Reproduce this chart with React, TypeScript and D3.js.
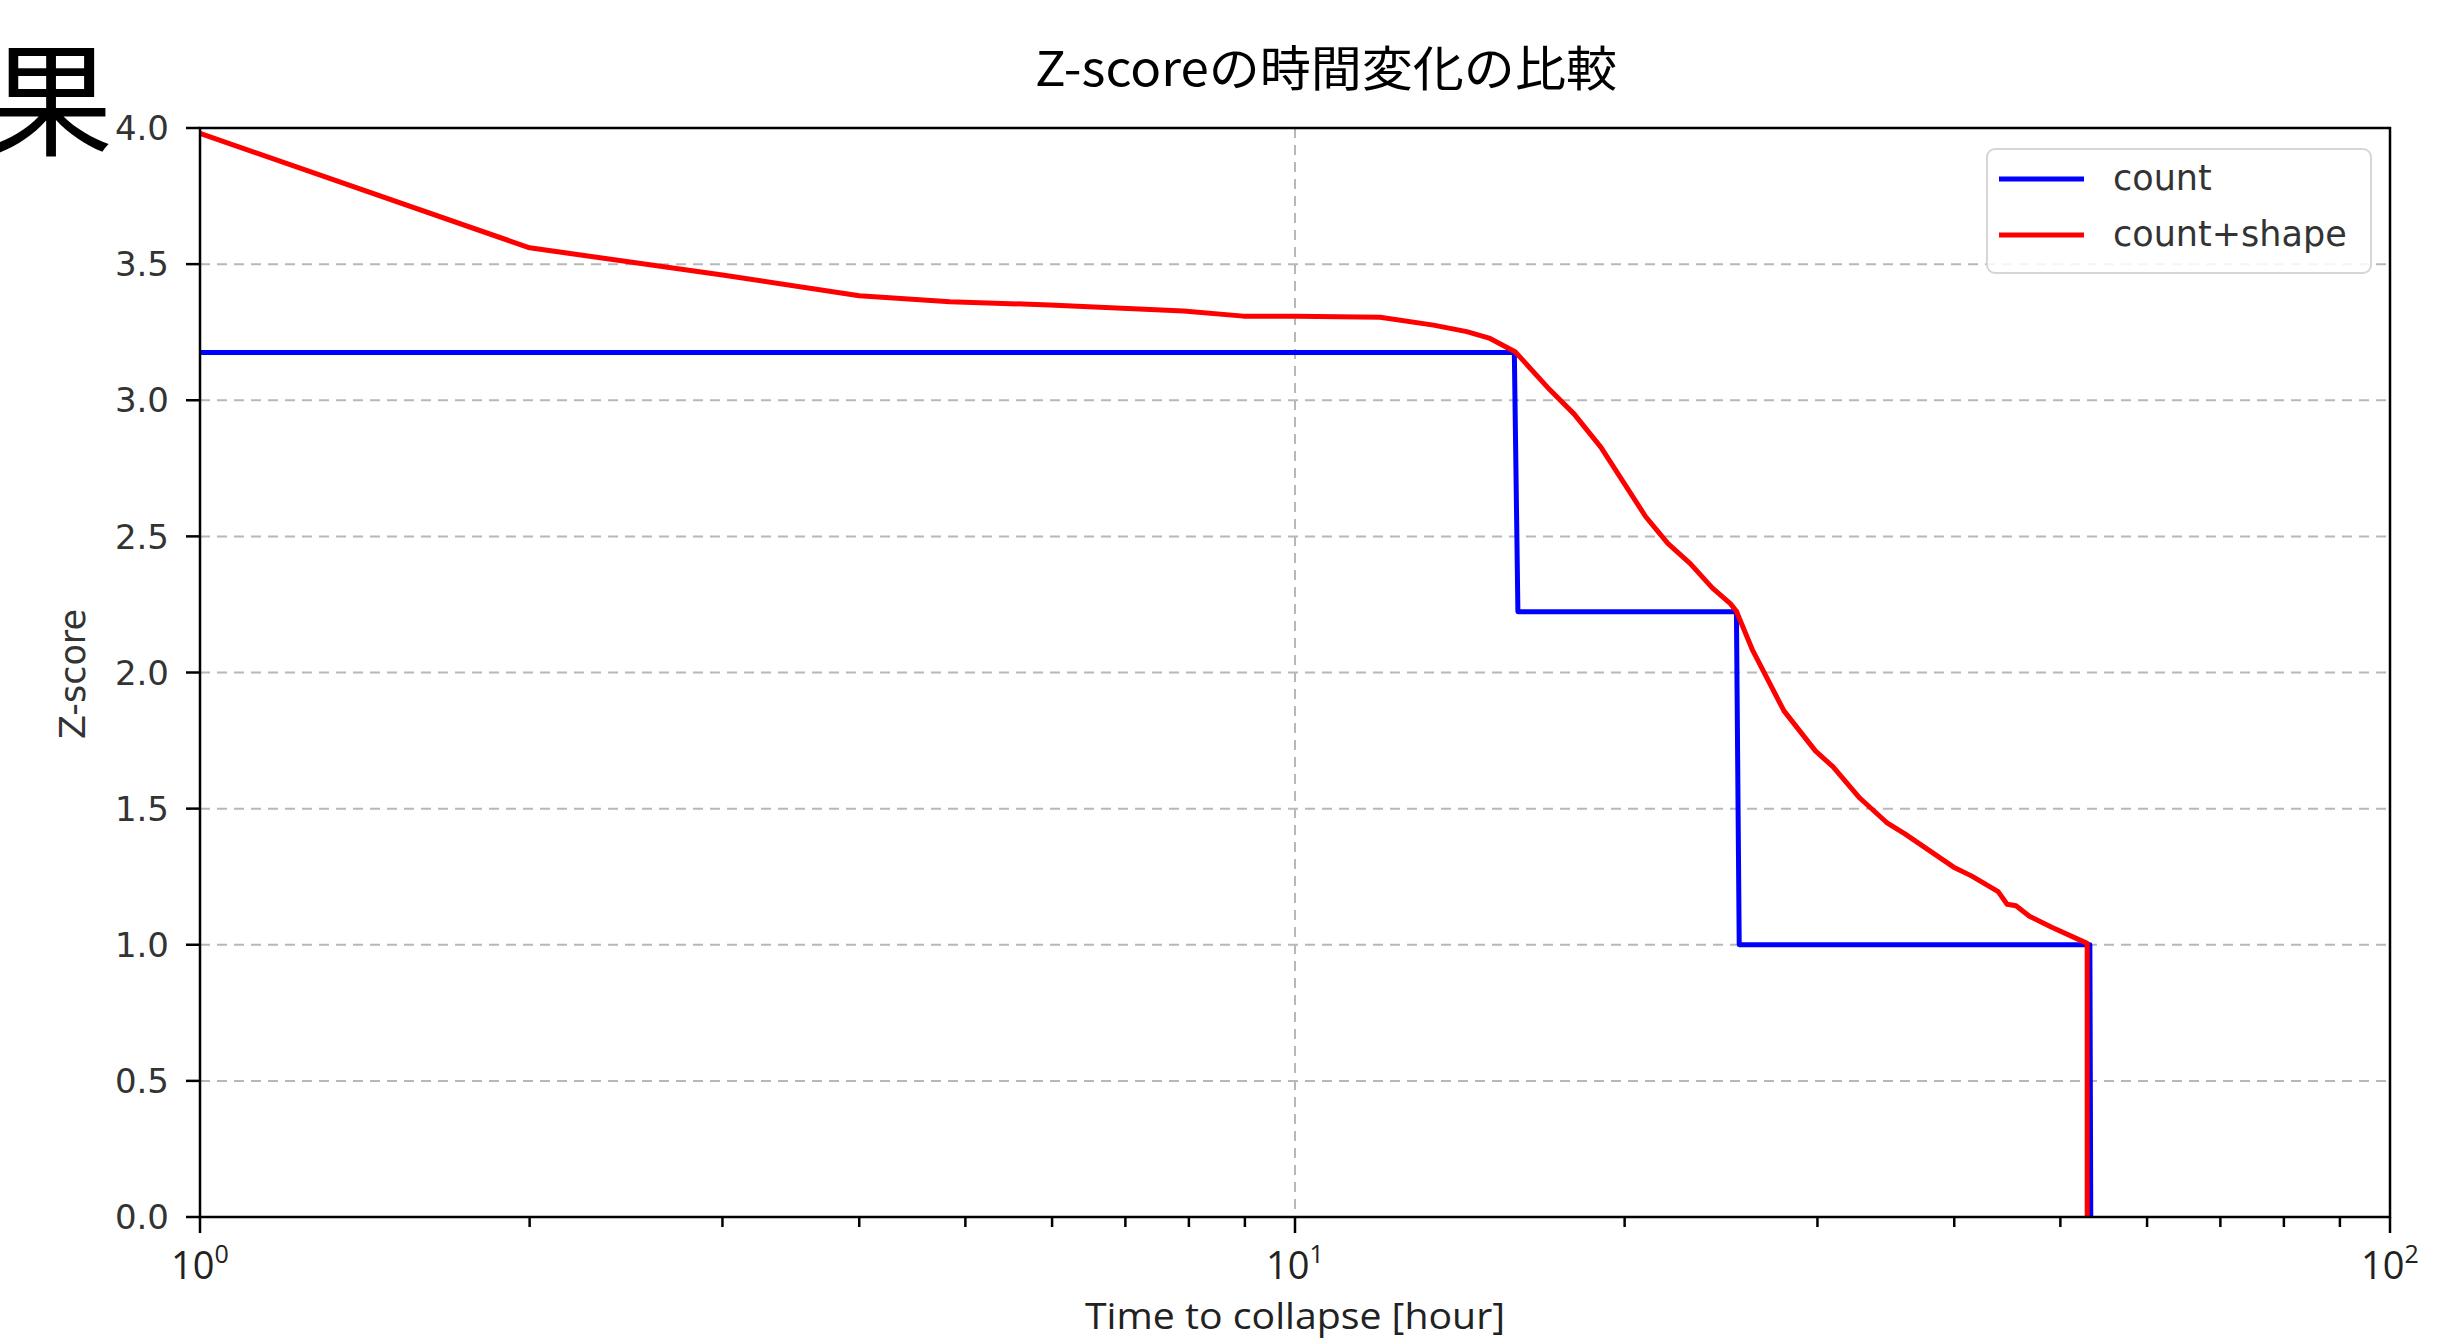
import React from 'react';
import * as d3 from 'd3';

const width = 2456;
const height = 1343;
const margin = { top: 128, right: 66, bottom: 126, left: 200 };

// hours to collapse vs Z-score
const countX = [1, 15.86, 15.98, 25.3, 25.45, 53.2, 53.3];
const countY = [3.175, 3.175, 2.223, 2.223, 1.0, 1.0, 0];

const shapeX = [1, 2, 3, 4, 4.84, 5.97, 7.91, 8.97, 10.03, 11.96, 13.38, 14.35, 15.07, 15.9, 17.0, 17.98, 19.03, 20.9, 21.9, 22.96, 24.06, 24.98, 25.3, 26.18, 27.96, 29.87, 30.99, 32.79, 34.7, 36.03, 39.95, 41.47, 43.87, 44.7, 45.55, 46.85, 49.1, 52.9, 52.9];
const shapeY = [3.98, 3.56, 3.46, 3.384, 3.362, 3.35, 3.328, 3.309, 3.309, 3.305, 3.276, 3.252, 3.227, 3.177, 3.048, 2.95, 2.827, 2.573, 2.474, 2.4, 2.31, 2.253, 2.225, 2.081, 1.859, 1.712, 1.654, 1.539, 1.449, 1.408, 1.285, 1.253, 1.195, 1.149, 1.143, 1.105, 1.064, 1.005, 0];

const seriesNames = ['count', 'count+shape'];
const seriesColors = ['#0000ff', '#ff0000'];
const yTicks = [0, 0.5, 1, 1.5, 2, 2.5, 3, 3.5, 4];
const xMajor = [1, 10, 100];

const title = 'Z-scoreの時間変化の比較';
const xTitle = 'Time to collapse [hour]';
const yTitle = 'Z-score';
const cornerChar = '果';

export default function App() {
  const x0 = margin.left;
  const x1 = width - margin.right;
  const y0 = height - margin.bottom;
  const y1 = margin.top;

  const xScale = d3.scaleLog().domain([1, 100]).range([x0, x1]);
  const yScale = d3.scaleLinear().domain([0, 4]).range([y0, y1]);

  const toPath = (xs: number[], ys: number[]) =>
    d3.line<[number, number]>()
      .x(d => xScale(d[0]))
      .y(d => yScale(d[1]))(xs.map((v, i) => [v, ys[i]] as [number, number]));

  const paths = [toPath(countX, countY), toPath(shapeX, shapeY)];
  const xTicks = xScale.ticks();
  const tickFont = 'DejaVu Sans, sans-serif';
  const labelFont = 'Open Sans, sans-serif';

  // legend box
  const lg = { x: 1987, y: 149, w: 384, h: 124 };

  return (
    <svg width={width} height={height} style={{ position: 'absolute', left: 0, top: 0, background: '#fff' }}>
      <rect x={0} y={0} width={width} height={height} fill="#fff" />

      <text x={113} y={146} fontSize={124} textAnchor="end" fontFamily="Noto Sans CJK JP" fill="#000">{cornerChar}</text>

      <text x={1326} y={86} fontSize={48} textAnchor="middle" textLength={582} lengthAdjust="spacingAndGlyphs" fontFamily="Noto Sans CJK JP" fill="#000">{title}</text>

      {/* grid */}
      {yTicks.filter(t => t > 0 && t < 4).map(t => (
        <line key={'gy' + t} x1={x0} x2={x1} y1={yScale(t)} y2={yScale(t)} stroke="#b8b8b8" strokeWidth={2} strokeDasharray="10,7" />
      ))}
      <line x1={xScale(10)} x2={xScale(10)} y1={y1} y2={y0} stroke="#b8b8b8" strokeWidth={2} strokeDasharray="10,7" />

      {/* series */}
      {paths.map((p, i) => (
        <path key={seriesNames[i]} d={p || ''} fill="none" stroke={seriesColors[i]} strokeWidth={5} strokeLinejoin="round" />
      ))}

      {/* frame */}
      <rect x={x0} y={y1} width={x1 - x0} height={y0 - y1} fill="none" stroke="#000" strokeWidth={2.5} />

      {/* y axis */}
      {yTicks.map(t => (
        <g key={'yt' + t}>
          <line x1={x0 - 14} x2={x0} y1={yScale(t)} y2={yScale(t)} stroke="#000" strokeWidth={2.5} />
          <text x={x0 - 31} y={yScale(t)} dy="0.36em" textAnchor="end" fontSize={34} fontFamily={tickFont} fill="#333">{d3.format('.1f')(t)}</text>
        </g>
      ))}
      <text transform={`translate(85,674) rotate(-90)`} textAnchor="middle" fontSize={35} fontFamily={tickFont} fill="#333">{yTitle}</text>

      {/* x axis */}
      {xTicks.map(t => {
        const major = xMajor.includes(t);
        return (
          <line key={'xt' + t} x1={xScale(t)} x2={xScale(t)} y1={y0} y2={y0 + (major ? 16 : 10)} stroke="#000" strokeWidth={2.5} />
        );
      })}
      {xMajor.map(t => (
        <text key={'xl' + t} x={xScale(t)} y={1279} textAnchor="middle" fontFamily={labelFont} fill="#222">
          <tspan fontSize={38}>10</tspan>
          <tspan fontSize={25} dy={-16}>{Math.round(Math.log10(t))}</tspan>
        </text>
      ))}
      <text x={(x0 + x1) / 2} y={1329} textAnchor="middle" fontSize={37} textLength={420} lengthAdjust="spacingAndGlyphs" fontFamily={labelFont} fill="#222">{xTitle}</text>

      {/* legend */}
      <rect x={lg.x} y={lg.y} width={lg.w} height={lg.h} rx={8} fill="#fff" fillOpacity={0.85} stroke="#d6d6d6" strokeWidth={2} />
      {seriesNames.map((n, i) => (
        <g key={'lg' + n}>
          <line x1={1999} x2={2084} y1={179 + i * 56} y2={179 + i * 56} stroke={seriesColors[i]} strokeWidth={5} />
          <text x={2113} y={190 + i * 56} fontSize={35} fontFamily={tickFont} fill="#333">{n}</text>
        </g>
      ))}
    </svg>
  );
}
